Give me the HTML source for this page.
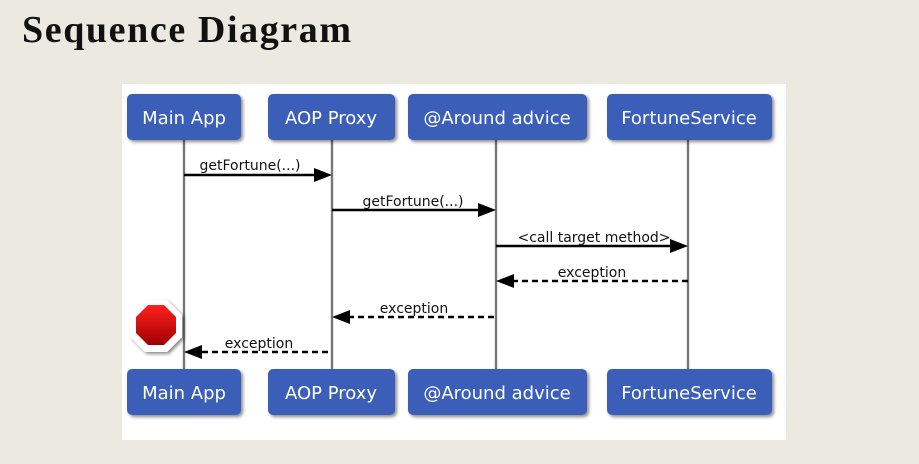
<!DOCTYPE html>
<html><head><style>
body{margin:0;width:919px;height:464px;background:#ece9e1;position:relative;overflow:hidden;font-family:"Liberation Sans",sans-serif}
h1{position:absolute;left:22px;top:8px;margin:0;font-family:"Liberation Serif",serif;font-size:38px;font-weight:bold;color:#111;letter-spacing:1.6px}
</style></head><body>
<h1>Sequence Diagram</h1>
<svg width="919" height="464" style="position:absolute;left:0;top:0">
<defs>
<filter id="sh" x="-10%" y="-10%" width="130%" height="140%"><feDropShadow dx="2" dy="2" stdDeviation="1.5" flood-color="#000" flood-opacity="0.45"/></filter>
<linearGradient id="rg" x1="0" y1="0" x2="0" y2="1"><stop offset="0" stop-color="#ff2020"/><stop offset="1" stop-color="#a00000"/></linearGradient>
</defs>
<rect x="122" y="84" width="664" height="356" fill="#fff"/>
<g stroke="#777" stroke-width="2.4">
<line x1="184" y1="140" x2="184" y2="369"/>
<line x1="332" y1="140" x2="332" y2="369"/>
<line x1="496" y1="140" x2="496" y2="369"/>
<line x1="688" y1="140" x2="688" y2="369"/>
</g>
<g fill="#3a5fb8" filter="url(#sh)">
<rect x="127" y="94" width="114" height="46" rx="5"/>
<rect x="268" y="94" width="127" height="46" rx="5"/>
<rect x="408" y="94" width="179" height="46" rx="5"/>
<rect x="607" y="94" width="165" height="46" rx="5"/>
<rect x="127" y="369" width="114" height="46" rx="5"/>
<rect x="268" y="369" width="127" height="46" rx="5"/>
<rect x="408" y="369" width="179" height="46" rx="5"/>
<rect x="607" y="369" width="165" height="46" rx="5"/>
</g>
<g fill="#fff" font-family="DejaVu Sans,sans-serif" font-size="18" text-anchor="middle">
<text x="184" y="124">Main App</text><text x="331" y="124">AOP Proxy</text><text x="497" y="124">@Around advice</text><text x="689" y="124">FortuneService</text>
<text x="184" y="399">Main App</text><text x="331" y="399">AOP Proxy</text><text x="497" y="399">@Around advice</text><text x="689" y="399">FortuneService</text>
</g>
<g stroke="#000" stroke-width="2.4">
<line x1="184" y1="175" x2="316" y2="175"/>
<line x1="332" y1="210" x2="480" y2="210"/>
<line x1="496" y1="246" x2="672" y2="246"/>
<g stroke-dasharray="6,4">
<line x1="688" y1="281" x2="512" y2="281"/>
<line x1="494" y1="317" x2="348" y2="317"/>
<line x1="328" y1="352" x2="200" y2="352"/>
</g></g>
<g fill="#000">
<polygon points="332,175 314,168 314,182"/>
<polygon points="496,210 478,203 478,217"/>
<polygon points="688,246 670,239 670,253"/>
<polygon points="496,281 514,274 514,288"/>
<polygon points="332,317 350,310 350,324"/>
<polygon points="184,352 202,345 202,359"/>
</g>
<g font-family="DejaVu Sans,sans-serif" font-size="14" fill="#111" text-anchor="middle">
<text x="250" y="170">getFortune(...)</text>
<text x="413" y="206">getFortune(...)</text>
<text x="594" y="242">&lt;call target method&gt;</text>
<text x="592" y="277">exception</text>
<text x="414" y="313">exception</text>
<text x="259" y="348">exception</text>
</g>
<g filter="url(#sh)">
<polygon points="145,300 167,300 182,315 182,337 167,352 145,352 130,337 130,315" fill="#fff"/>
</g>
<polygon points="148,305 164,305 176,317 176,333 164,345 148,345 136,333 136,317" fill="url(#rg)"/>
</svg>
</body></html>
